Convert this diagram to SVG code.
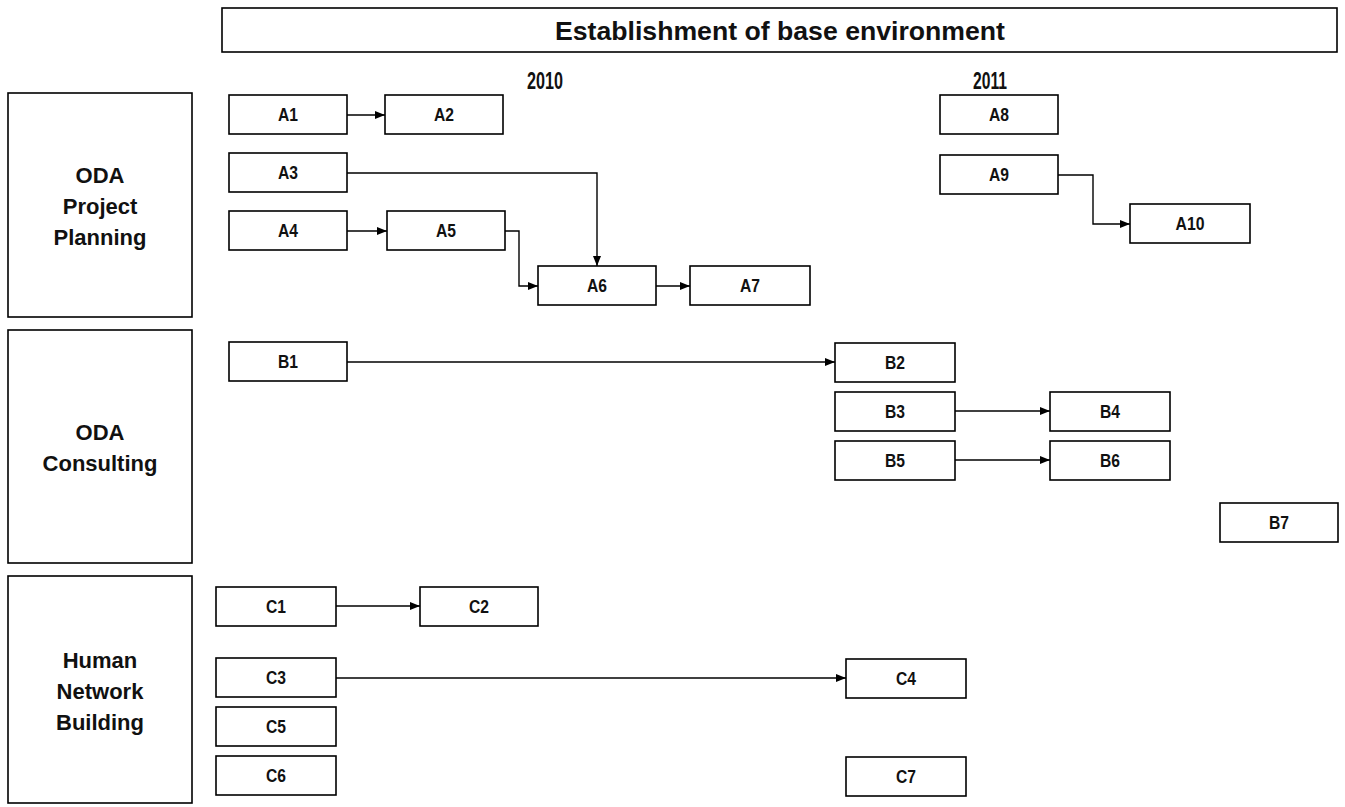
<svg xmlns="http://www.w3.org/2000/svg" width="1345" height="807" viewBox="0 0 1345 807">
<defs>
<style>
.box{fill:#fff;stroke:#000;stroke-width:1.6}
.lane{fill:#fff;stroke:#000;stroke-width:1.6}
.t{font-family:"Liberation Sans Narrow","Liberation Sans",Arial,sans-serif;font-weight:bold;font-size:19px;text-anchor:middle;fill:#111}
.lt{font-family:"Liberation Sans","DejaVu Sans",Arial,sans-serif;font-weight:bold;font-size:22px;text-anchor:middle;fill:#111}
.yr{font-family:"Liberation Sans Narrow","Liberation Sans",Arial,sans-serif;font-weight:bold;font-size:24px;text-anchor:middle;fill:#111}
.ti{font-family:"Liberation Sans Narrow","Liberation Sans",Arial,sans-serif;font-weight:bold;font-size:26px;text-anchor:middle;fill:#111}
.c{fill:none;stroke:#000;stroke-width:1.4}
</style>
<marker id="ah" markerWidth="10" markerHeight="8" refX="10" refY="4" orient="auto" markerUnits="userSpaceOnUse">
<path d="M0,0 L10,4 L0,8 Z" fill="#000"/>
</marker>
</defs>
<rect width="1345" height="807" fill="#fff"/>

<g id="title">
<rect class="box" x="222" y="8" width="1115" height="44"/>
<text class="ti" x="780" y="40" textLength="450" lengthAdjust="spacingAndGlyphs">Establishment of base environment</text>
</g>
<g id="year2010"><text class="yr" x="545" y="89" textLength="36" lengthAdjust="spacingAndGlyphs">2010</text></g>
<g id="year2011"><text class="yr" x="990" y="89" textLength="34" lengthAdjust="spacingAndGlyphs">2011</text></g>

<g id="lane-planning">
<rect class="lane" x="8" y="93" width="184" height="224"/>
<text class="lt" x="100" y="183">ODA</text>
<text class="lt" x="100" y="214">Project</text>
<text class="lt" x="100" y="245">Planning</text>
</g>
<g id="lane-consulting">
<rect class="lane" x="8" y="330" width="184" height="233"/>
<text class="lt" x="100" y="440">ODA</text>
<text class="lt" x="100" y="471">Consulting</text>
</g>
<g id="lane-human">
<rect class="lane" x="8" y="576" width="184" height="227"/>
<text class="lt" x="100" y="668">Human</text>
<text class="lt" x="100" y="699">Network</text>
<text class="lt" x="100" y="730">Building</text>
</g>

<g id="connectors">
<line class="c" x1="347" y1="115" x2="385" y2="115" marker-end="url(#ah)"/>
<polyline class="c" points="347,173 597,173 597,266" marker-end="url(#ah)"/>
<line class="c" x1="347" y1="231" x2="387" y2="231" marker-end="url(#ah)"/>
<polyline class="c" points="505,231 519,231 519,286 538,286" marker-end="url(#ah)"/>
<line class="c" x1="656" y1="286" x2="690" y2="286" marker-end="url(#ah)"/>
<polyline class="c" points="1058,175 1093,175 1093,224 1130,224" marker-end="url(#ah)"/>
<line class="c" x1="347" y1="362" x2="835" y2="362" marker-end="url(#ah)"/>
<line class="c" x1="955" y1="411" x2="1050" y2="411" marker-end="url(#ah)"/>
<line class="c" x1="955" y1="460" x2="1050" y2="460" marker-end="url(#ah)"/>
<line class="c" x1="336" y1="606" x2="420" y2="606" marker-end="url(#ah)"/>
<line class="c" x1="336" y1="678" x2="846" y2="678" marker-end="url(#ah)"/>
</g>

<g id="A1"><rect class="box" x="229" y="95" width="118" height="39"/><text class="t" x="288" y="121" textLength="20" lengthAdjust="spacingAndGlyphs">A1</text></g>
<g id="A2"><rect class="box" x="385" y="95" width="118" height="39"/><text class="t" x="444" y="121" textLength="20" lengthAdjust="spacingAndGlyphs">A2</text></g>
<g id="A3"><rect class="box" x="229" y="153" width="118" height="39"/><text class="t" x="288" y="179" textLength="20" lengthAdjust="spacingAndGlyphs">A3</text></g>
<g id="A4"><rect class="box" x="229" y="211" width="118" height="39"/><text class="t" x="288" y="237" textLength="20" lengthAdjust="spacingAndGlyphs">A4</text></g>
<g id="A5"><rect class="box" x="387" y="211" width="118" height="39"/><text class="t" x="446" y="237" textLength="20" lengthAdjust="spacingAndGlyphs">A5</text></g>
<g id="A6"><rect class="box" x="538" y="266" width="118" height="39"/><text class="t" x="597" y="292" textLength="20" lengthAdjust="spacingAndGlyphs">A6</text></g>
<g id="A7"><rect class="box" x="690" y="266" width="120" height="39"/><text class="t" x="750" y="292" textLength="20" lengthAdjust="spacingAndGlyphs">A7</text></g>
<g id="A8"><rect class="box" x="940" y="95" width="118" height="39"/><text class="t" x="999" y="121" textLength="20" lengthAdjust="spacingAndGlyphs">A8</text></g>
<g id="A9"><rect class="box" x="940" y="155" width="118" height="39"/><text class="t" x="999" y="181" textLength="20" lengthAdjust="spacingAndGlyphs">A9</text></g>
<g id="A10"><rect class="box" x="1130" y="204" width="120" height="39"/><text class="t" x="1190" y="230" textLength="29" lengthAdjust="spacingAndGlyphs">A10</text></g>

<g id="B1"><rect class="box" x="229" y="342" width="118" height="39"/><text class="t" x="288" y="368" textLength="20" lengthAdjust="spacingAndGlyphs">B1</text></g>
<g id="B2"><rect class="box" x="835" y="343" width="120" height="39"/><text class="t" x="895" y="369" textLength="20" lengthAdjust="spacingAndGlyphs">B2</text></g>
<g id="B3"><rect class="box" x="835" y="392" width="120" height="39"/><text class="t" x="895" y="418" textLength="20" lengthAdjust="spacingAndGlyphs">B3</text></g>
<g id="B4"><rect class="box" x="1050" y="392" width="120" height="39"/><text class="t" x="1110" y="418" textLength="20" lengthAdjust="spacingAndGlyphs">B4</text></g>
<g id="B5"><rect class="box" x="835" y="441" width="120" height="39"/><text class="t" x="895" y="467" textLength="20" lengthAdjust="spacingAndGlyphs">B5</text></g>
<g id="B6"><rect class="box" x="1050" y="441" width="120" height="39"/><text class="t" x="1110" y="467" textLength="20" lengthAdjust="spacingAndGlyphs">B6</text></g>
<g id="B7"><rect class="box" x="1220" y="503" width="118" height="39"/><text class="t" x="1279" y="529" textLength="20" lengthAdjust="spacingAndGlyphs">B7</text></g>

<g id="C1"><rect class="box" x="216" y="587" width="120" height="39"/><text class="t" x="276" y="613" textLength="20" lengthAdjust="spacingAndGlyphs">C1</text></g>
<g id="C2"><rect class="box" x="420" y="587" width="118" height="39"/><text class="t" x="479" y="613" textLength="20" lengthAdjust="spacingAndGlyphs">C2</text></g>
<g id="C3"><rect class="box" x="216" y="658" width="120" height="39"/><text class="t" x="276" y="684" textLength="20" lengthAdjust="spacingAndGlyphs">C3</text></g>
<g id="C4"><rect class="box" x="846" y="659" width="120" height="39"/><text class="t" x="906" y="685" textLength="20" lengthAdjust="spacingAndGlyphs">C4</text></g>
<g id="C5"><rect class="box" x="216" y="707" width="120" height="39"/><text class="t" x="276" y="733" textLength="20" lengthAdjust="spacingAndGlyphs">C5</text></g>
<g id="C6"><rect class="box" x="216" y="756" width="120" height="39"/><text class="t" x="276" y="782" textLength="20" lengthAdjust="spacingAndGlyphs">C6</text></g>
<g id="C7"><rect class="box" x="846" y="757" width="120" height="39"/><text class="t" x="906" y="783" textLength="20" lengthAdjust="spacingAndGlyphs">C7</text></g>
</svg>
